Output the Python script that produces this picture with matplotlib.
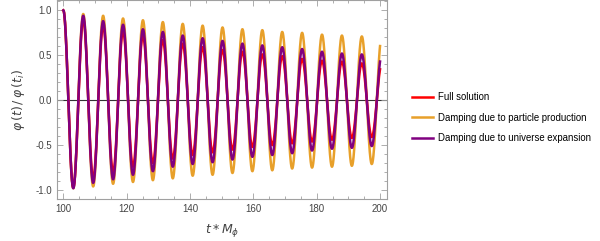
import numpy as np
import matplotlib
matplotlib.use("Agg")
import matplotlib.pyplot as plt
from matplotlib.ticker import MultipleLocator

plt.rcParams["font.family"] = ["Liberation Sans", "DejaVu Sans"]

# extrema of each curve (peaks at t = 100 + 2k*pi, troughs in between)
full_peaks = [1.0, 0.90, 0.83, 0.77, 0.72, 0.67, 0.63, 0.59, 0.56, 0.54, 0.51, 0.49, 0.46, 0.44, 0.43, 0.41, 0.40]
full_troughs = [-0.97, -0.87, -0.80, -0.74, -0.70, -0.65, -0.61, -0.58, -0.55, -0.52, -0.50, -0.48, -0.46, -0.44, -0.42, -0.41]

part_peaks = [1.0, 0.96, 0.94, 0.91, 0.89, 0.87, 0.85, 0.83, 0.81, 0.79, 0.78, 0.76, 0.75, 0.73, 0.72, 0.71, 0.70]
part_troughs = [-0.98, -0.96, -0.93, -0.91, -0.89, -0.87, -0.84, -0.83, -0.81, -0.79, -0.78, -0.76, -0.75, -0.74, -0.73, -0.71]

exp_peaks = [1.0, 0.94, 0.88, 0.84, 0.79, 0.76, 0.72, 0.69, 0.66, 0.63, 0.61, 0.59, 0.57, 0.54, 0.52, 0.51, 0.50]
exp_troughs = [-0.98, -0.92, -0.88, -0.83, -0.79, -0.74, -0.71, -0.69, -0.66, -0.63, -0.61, -0.59, -0.56, -0.54, -0.53, -0.51]

labels = ["Full solution", "Damping due to particle production", "Damping due to universe expansion"]
colors = ["#FF0000", "#E8A02A", "#800080"]

t0, t1 = 100, 200
half_period = np.pi


def curve(peaks, troughs, t):
    ext = np.empty(len(peaks) + len(troughs))
    ext[0::2] = peaks
    ext[1::2] = troughs
    k = np.floor((t - t0) / half_period).astype(int)
    k = np.clip(k, 0, len(ext) - 2)
    f = (t - t0) / half_period - k
    w = (1 - np.cos(np.pi * f)) / 2
    return ext[k] + (ext[k + 1] - ext[k]) * w


t = np.linspace(t0, t1, 3000)

fig = plt.figure(figsize=(6, 2.41), dpi=100)
ax = fig.add_axes([0.095, 0.174, 0.55, 0.824])

ax.axhline(0, color="#333333", lw=0.8, zorder=1)
ax.plot(t, curve(part_peaks, part_troughs, t), color=colors[1], lw=1.8, label=labels[1], zorder=2)
ax.plot(t, curve(full_peaks, full_troughs, t), color=colors[0], lw=1.8, label=labels[0], zorder=3)
ax.plot(t, curve(exp_peaks, exp_troughs, t), color=colors[2], lw=1.8, label=labels[2], zorder=4)

ax.set_xlim(98, 202.2)
ax.set_ylim(-1.1, 1.11)
ax.xaxis.set_major_locator(MultipleLocator(20))
ax.xaxis.set_minor_locator(MultipleLocator(5))
ax.yaxis.set_major_locator(MultipleLocator(0.5))
ax.yaxis.set_minor_locator(MultipleLocator(0.1))
ax.yaxis.set_major_formatter(matplotlib.ticker.FormatStrFormatter("%.1f"))

for s in ax.spines.values():
    s.set_color("#A0A0A0")
    s.set_linewidth(0.8)
ax.tick_params(which="both", direction="in", top=True, right=True, color="#A0A0A0",
               labelsize=7, labelcolor="#444444", width=0.6)
ax.tick_params(which="major", length=4)
ax.tick_params(which="minor", length=2)

ax.set_xlabel(r"$t * M_{\phi}$", fontsize=9, color="#444444", labelpad=6)
ax.set_ylabel(r"$\varphi\,(t)\,/\,\varphi\,(t_i)$", fontsize=9, color="#444444", labelpad=6)

h, l = ax.get_legend_handles_labels()
order = [1, 0, 2]
fig.legend([h[i] for i in order], [l[i] for i in order], loc="center left",
           bbox_to_anchor=(0.672, 0.512), frameon=False, fontsize=6.9,
           handlelength=2.2, handletextpad=0.55, labelspacing=1.1)

fig.savefig("out.png", dpi=100)
